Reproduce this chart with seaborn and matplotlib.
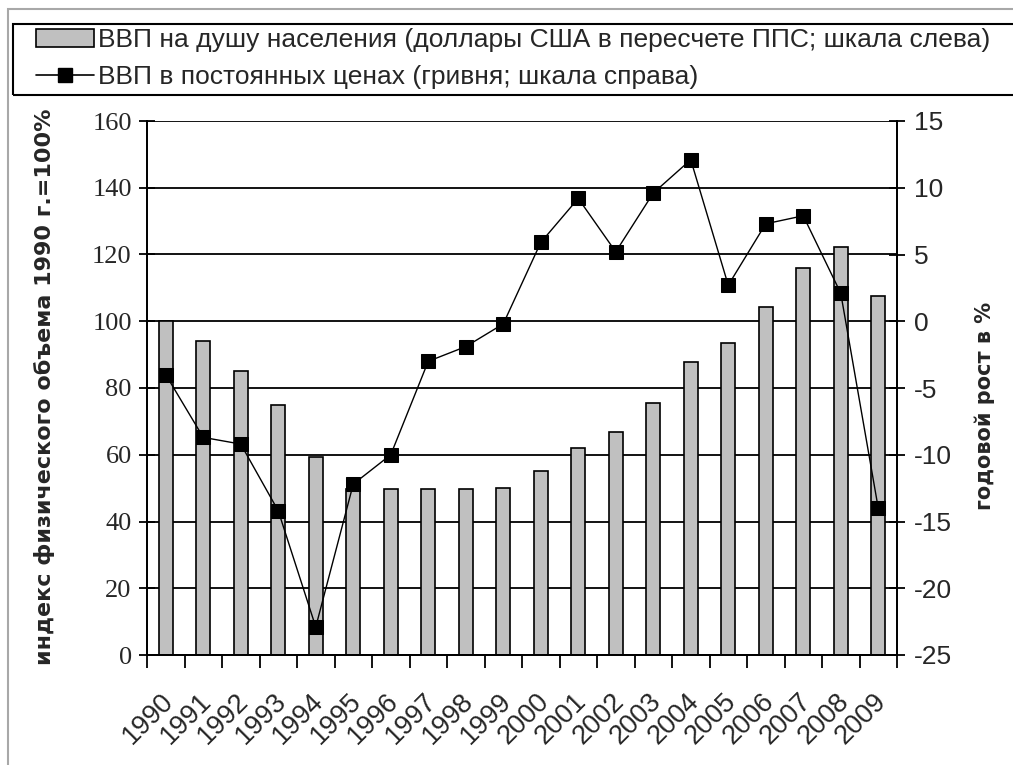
import matplotlib
matplotlib.use("Agg")
import matplotlib.pyplot as plt
from matplotlib.patches import Patch, Rectangle
from matplotlib.lines import Line2D
import matplotlib.transforms as mtransforms
import numpy as np
import pandas as pd
import seaborn as sns

sns.set_theme(style="white")
plt.rcParams["axes.unicode_minus"] = False

# данные
years = [str(y) for y in range(1990, 2010)]
gdp_index = [100, 94.1, 85.1, 74.9, 59.4, 49.7, 49.7, 49.7, 49.7, 50.1,
             55.1, 61.9, 66.8, 75.4, 87.8, 93.6, 104.3, 116.1, 122.1, 107.7]
gdp_growth = [-4.0, -8.7, -9.2, -14.2, -22.9, -12.2, -10.0, -3.0, -1.9, -0.2,
              5.9, 9.2, 5.2, 9.6, 12.1, 2.7, 7.3, 7.9, 2.1, -14.0]

label_bars = "ВВП на душу населения (доллары США в пересчете ППС; шкала слева)"
label_line = "ВВП в постоянных ценах (гривня; шкала справа)"
ylabel_left = "индекс физического объема 1990 г.=100%"
ylabel_right = "годовой рост в %"

df = pd.DataFrame({"Год": years, "Индекс": gdp_index, "Рост": gdp_growth})

W, H = 1013, 765
fig = plt.figure(figsize=(W / 100, H / 100), dpi=100)
fig.patch.set_facecolor("white")

# внешняя серая рамка области диаграммы
fig.patches.append(Rectangle((8 / W, -0.1), 1.2, (H - 9) / H + 0.1,
                             transform=fig.transFigure, fill=False,
                             edgecolor="#a8a8a8", lw=1.5))

left, right, top, bottom = 147, 897, 121, 655
ax = fig.add_axes([left / W, 1 - bottom / H, (right - left) / W, (bottom - top) / H])

sns.barplot(data=df, x="Год", y="Индекс", ax=ax, color="#c0c0c0",
            saturation=1, width=0.38, edgecolor="black", linewidth=1.2, zorder=2)
ax.set_ylim(0, 160)
ax.set_yticks(np.arange(0, 161, 20))
ax.yaxis.grid(True, color="black", lw=1.3)
ax.set_axisbelow(True)
ax.set_xlim(-0.5, len(years) - 0.5)

ax2 = ax.twinx()
sns.pointplot(data=df, x="Год", y="Рост", ax=ax2, color="black", markers="s",
              markersize=10, linewidth=1.0, errorbar=None)
ax2.set_ylim(-25, 15)
ax2.set_yticks(np.arange(-25, 16, 5))
ax2.set_xlim(-0.5, len(years) - 0.5)

for a in (ax, ax2):
    for s in a.spines.values():
        s.set_color("black")
        s.set_linewidth(1.3)
    a.spines["top"].set_visible(False)
    a.set_xlabel("")
    a.set_ylabel("")

ax.tick_params(axis="y", direction="inout", length=12, width=1.3, color="black", pad=5)
ax2.tick_params(axis="y", direction="inout", length=12, width=1.3, color="black", pad=6)
for t in ax.get_yticklabels():
    t.set_fontfamily("Liberation Serif")
    t.set_fontsize(19)
for t in ax2.get_yticklabels():
    t.set_fontfamily("Liberation Sans")
    t.set_fontsize(19)

# деления оси X на границах категорий
ax.set_xticks(np.arange(-0.5, len(years), 1.0), minor=True)
ax.tick_params(axis="x", which="minor", direction="out", length=9, width=1.3, color="black", bottom=True)
ax.tick_params(axis="x", which="major", length=0, pad=24)
ax.set_xticks(range(len(years)))
ax.set_xticklabels(years, rotation=45, ha="right", rotation_mode="anchor",
                   fontsize=19.5, fontfamily="Liberation Sans")
offset = mtransforms.ScaledTranslation(-0.05, 0, fig.dpi_scale_trans)
for t in ax.get_xticklabels():
    t.set_transform(t.get_transform() + offset)
ax2.tick_params(axis="x", which="both", length=0, labelbottom=False)

fig.text(45 / W, 1 - 387 / H, ylabel_left, rotation=90, ha="center", va="center",
         fontsize=16, fontweight="bold", family="DejaVu Sans")
fig.text(985 / W, 1 - 406 / H, ylabel_right, rotation=90, ha="center", va="center",
         fontsize=15, fontweight="bold", family="DejaVu Sans")

# легенда сверху, рамка рисуется отдельно
fig.patches.append(Rectangle((13 / W, 1 - 95 / H), (W + 10 - 13) / W, 71 / H,
                             transform=fig.transFigure, fill=False,
                             edgecolor="black", lw=1.5))
handles = [Patch(facecolor="#c0c0c0", edgecolor="black", lw=1.2),
           Line2D([], [], color="black", lw=1.2, marker="s", markersize=10)]
leg = fig.legend(handles, [label_bars, label_line], loc="upper left",
                 bbox_to_anchor=(36 / W, 1 - 28 / H), frameon=False,
                 borderpad=0, borderaxespad=0,
                 prop={"family": "Liberation Sans", "size": 19}, handlelength=2.2,
                 handleheight=0.7, handletextpad=0.15, labelspacing=0.5)

fig.savefig("out.png", dpi=100, facecolor="white")
